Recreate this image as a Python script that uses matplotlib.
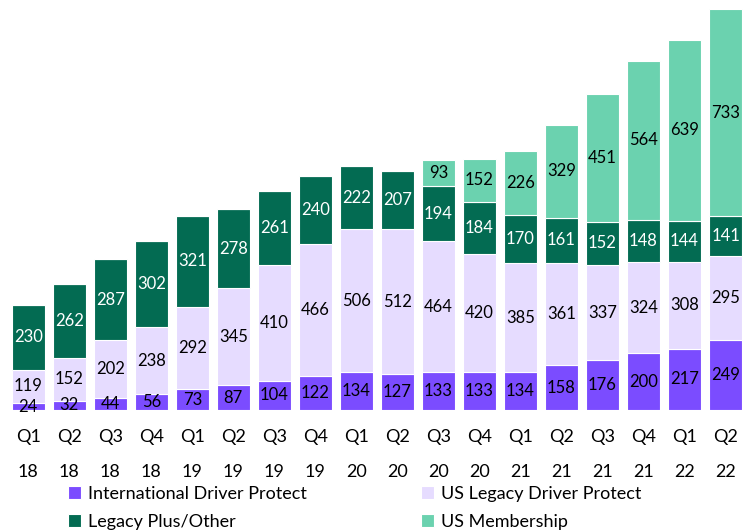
import matplotlib.pyplot as plt
import numpy as np

plt.rcParams['font.family'] = ['Lato', 'DejaVu Sans']

quarters = ['Q1\n18', 'Q2\n18', 'Q3\n18', 'Q4\n18', 'Q1\n19', 'Q2\n19', 'Q3\n19', 'Q4\n19',
            'Q1\n20', 'Q2\n20', 'Q3\n20', 'Q4\n20', 'Q1\n21', 'Q2\n21', 'Q3\n21', 'Q4\n21',
            'Q1\n22', 'Q2\n22']
intl = [24, 32, 44, 56, 73, 87, 104, 122, 134, 127, 133, 133, 134, 158, 176, 200, 217, 249]
us_legacy = [119, 152, 202, 238, 292, 345, 410, 466, 506, 512, 464, 420, 385, 361, 337, 324, 308, 295]
legacy_plus = [230, 262, 287, 302, 321, 278, 261, 240, 222, 207, 194, 184, 170, 161, 152, 148, 144, 141]
us_member = [0, 0, 0, 0, 0, 0, 0, 0, 0, 0, 93, 152, 226, 329, 451, 564, 639, 733]

series = [
    ('International Driver Protect', intl, '#7b4cff', 'black'),
    ('US Legacy Driver Protect', us_legacy, '#e6dcff', 'black'),
    ('Legacy Plus/Other', legacy_plus, '#036b52', 'white'),
    ('US Membership', us_member, '#6bd2af', 'black'),
]

fig = plt.figure(figsize=(7.44, 5.32), dpi=100)
ax = fig.add_axes([0, 122 / 532, 1, 410 / 532])

x = np.arange(len(quarters))
bottom = np.zeros(len(quarters))
handles = {}
for name, vals, color, tcolor in series:
    vals = np.array(vals, dtype=float)
    bars = ax.bar(x, vals, 0.8, bottom=bottom, color=color, edgecolor='white', linewidth=0.8, label=name)
    handles[name] = bars
    for xi, b, v in zip(x, bottom, vals):
        if v > 0:
            ax.text(xi, b + v / 2, f'{int(v)}', ha='center', va='center', fontsize=12, color=tcolor)
    bottom += vals

ax.set_xlim(-0.69, 17.45)
ax.set_ylim(0, 1450)
ax.set_xticks(x)
ax.set_xticklabels(quarters, fontsize=13, linespacing=2.4)
ax.tick_params(axis='x', length=0, pad=14)
ax.set_yticks([])
for s in ax.spines.values():
    s.set_visible(False)

order = ['International Driver Protect', 'Legacy Plus/Other', 'US Legacy Driver Protect', 'US Membership']
fig.legend([handles[n] for n in order], order, ncol=2, loc='upper left',
           bbox_to_anchor=(68 / 744, 1 - 486 / 532), frameon=False, fontsize=13,
           handlelength=0.7, handleheight=0.7, handletextpad=0.4, columnspacing=6.35,
           labelspacing=0.67, borderpad=0, borderaxespad=0)

fig.savefig('out.png', dpi=100)
